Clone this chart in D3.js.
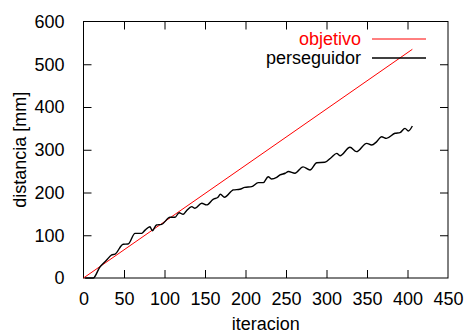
<!DOCTYPE html>
<html>
<head>
<meta charset="utf-8">
<script src="https://cdn.jsdelivr.net/npm/d3@7"></script>
<style>
  html, body { margin: 0; padding: 0; background: #fff; }
  svg { display: block; font-family: "Liberation Sans", Arial, sans-serif; }
</style>
</head>
<body>
<script>
// series
const objetivo = [[0, 0], [406, 535]];
const perseguidor = [
  [2, 0], [12, 0], [20, 25], [28.6, 42], [34.8, 54], [39, 56], [49, 79], [55, 79.5],
  [63.6, 104.5], [71.8, 104.5], [76, 112], [82, 120], [85, 110.6], [90, 124], [96.5, 125.6],
  [106.8, 142], [113, 142], [118, 152.8], [123, 149], [127, 157], [133.6, 167], [137.6, 163],
  [146, 175], [152, 171], [160, 184], [166, 189], [169, 196], [174, 189], [185, 206],
  [193, 207.5], [199, 212], [207.6, 213.6], [215.8, 223], [222, 223], [228, 237], [232, 231.6],
  [238.5, 235.5], [242.6, 241], [249, 245], [253, 249], [261, 245], [271, 260], [279.6, 252.6],
  [288, 269.7], [298, 270.6], [306, 282], [312.6, 291.6], [316.7, 286], [329, 305.7],
  [337, 295.5], [349.6, 315], [355.7, 311], [362, 319], [368, 330.5], [374, 326.7],
  [384.6, 338.5], [390.7, 340], [396.9, 350], [401, 344], [406, 355.5]
];
const xTicks = [0, 50, 100, 150, 200, 250, 300, 350, 400, 450];
const yTicks = [0, 100, 200, 300, 400, 500, 600];
const legendNames = ['objetivo', 'perseguidor'];
const legendColors = ['#ff0000', '#000000'];

const W = 466, H = 335;
const m = { left: 83.5, right: 448, top: 21.5, bottom: 278 };
const tick = 8;

const svg = d3.select('body').append('svg')
  .attr('width', W).attr('height', H);
svg.append('rect').attr('width', W).attr('height', H).attr('fill', '#fff');

const x = d3.scaleLinear().domain([0, 450]).range([m.left, m.right]);
const y = d3.scaleLinear().domain([0, 600]).range([m.bottom, m.top]);

// axes with inward ticks, mirrored on top/right
const fs = 18;
const gBottom = svg.append('g').attr('transform', `translate(0,${m.bottom})`)
  .call(d3.axisBottom(x).tickValues(xTicks).tickSizeInner(-tick).tickSizeOuter(0).tickPadding(14));
const gTop = svg.append('g').attr('transform', `translate(0,${m.top})`)
  .call(d3.axisTop(x).tickValues(xTicks).tickSizeInner(-tick).tickSizeOuter(0).tickFormat(''));
const gLeft = svg.append('g').attr('transform', `translate(${m.left},0)`)
  .call(d3.axisLeft(y).tickValues(yTicks).tickSizeInner(-tick).tickSizeOuter(0).tickPadding(19));
const gRight = svg.append('g').attr('transform', `translate(${m.right},0)`)
  .call(d3.axisRight(y).tickValues(yTicks).tickSizeInner(-tick).tickSizeOuter(0).tickFormat(''));

[gBottom, gTop, gLeft, gRight].forEach(g => {
  g.select('.domain').remove();
  g.selectAll('line').attr('stroke', '#000').attr('stroke-width', 1);
  g.selectAll('text').attr('font-size', fs).attr('font-family', 'Liberation Sans, Arial, sans-serif').attr('fill', '#000');
});
// no ticks at the corners
gBottom.selectAll('.tick').filter(d => d === 0 || d === 450).select('line').remove();
gTop.selectAll('.tick').filter(d => d === 0 || d === 450).select('line').remove();
gLeft.selectAll('.tick').filter(d => d === 0 || d === 600).select('line').remove();
gRight.selectAll('.tick').filter(d => d === 0 || d === 600).select('line').remove();

svg.append('rect')
  .attr('x', m.left).attr('y', m.top)
  .attr('width', m.right - m.left).attr('height', m.bottom - m.top)
  .attr('fill', 'none').attr('stroke', '#000').attr('stroke-width', 1);

const line = d3.line().x(d => x(d[0])).y(d => y(d[1])).curve(d3.curveMonotoneX);

svg.append('path').datum(objetivo)
  .attr('d', line).attr('fill', 'none')
  .attr('stroke', legendColors[0]).attr('stroke-width', 1);
svg.append('path').datum(perseguidor)
  .attr('d', line).attr('fill', 'none')
  .attr('stroke', legendColors[1]).attr('stroke-width', 1.4);

// axis titles
svg.append('text')
  .attr('x', (m.left + m.right) / 2).attr('y', 330)
  .attr('text-anchor', 'middle').attr('font-size', fs)
  .text('iteracion');
svg.append('text')
  .attr('transform', `translate(26,${(m.top + m.bottom) / 2}) rotate(-90)`)
  .attr('text-anchor', 'middle').attr('font-size', fs)
  .text('distancia [mm]');

// legend
const lg = svg.append('g');
legendNames.forEach((name, i) => {
  const ly = 39 + i * 19;
  lg.append('text')
    .attr('x', 361).attr('y', ly + 6)
    .attr('text-anchor', 'end').attr('font-size', fs)
    .attr('fill', i === 0 ? legendColors[0] : '#000')
    .text(name);
  lg.append('line')
    .attr('x1', 372).attr('x2', 426).attr('y1', ly).attr('y2', ly)
    .attr('stroke', legendColors[i]).attr('stroke-width', i === 0 ? 1 : 1.4);
});
</script>
</body>
</html>
